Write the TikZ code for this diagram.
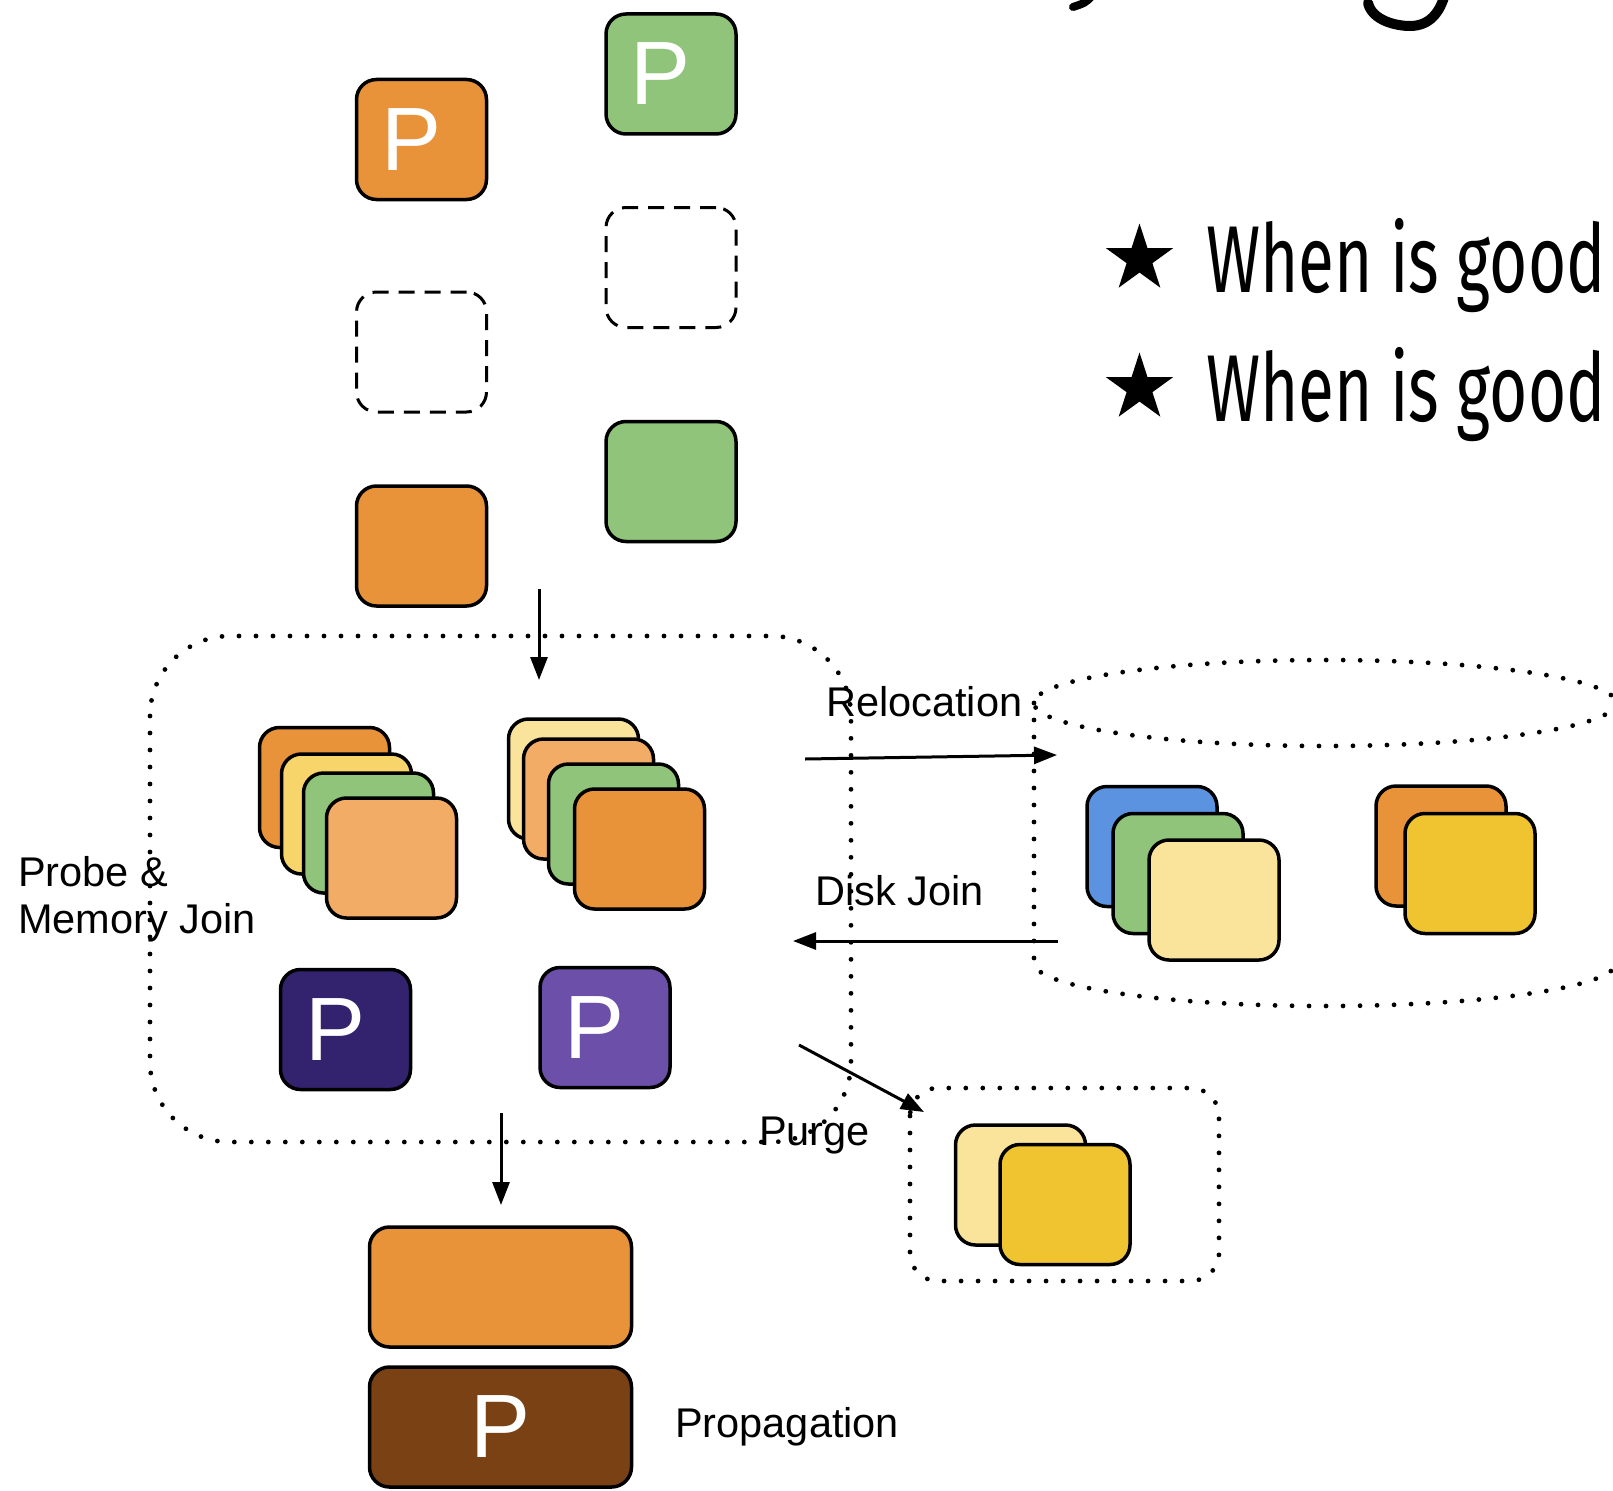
\documentclass[tikz,border=0pt]{standalone}
\usepackage{fontspec}
\usepackage{graphicx}
\setmainfont{Liberation Sans}
\newfontfamily\handfont{Fira Sans}
\usetikzlibrary{arrows.meta,shapes.geometric}

\definecolor{cOrange}{RGB}{232,146,58}
\definecolor{cGreen}{RGB}{143,196,122}
\definecolor{cPeach}{RGB}{242,172,102}
\definecolor{cYellow}{RGB}{247,213,106}
\definecolor{cCream}{RGB}{250,227,154}
\definecolor{cGold}{RGB}{240,195,48}
\definecolor{cBlue}{RGB}{91,147,224}
\definecolor{cIndigo}{RGB}{51,35,111}
\definecolor{cPurple}{RGB}{107,79,168}
\definecolor{cBrown}{RGB}{122,65,20}

\newcommand{\pmark}{\kern-20pt P}

\begin{document}
\begin{tikzpicture}[x=1pt,y=-1pt,
  card/.style={draw=black, line width=3.5pt, rounded corners=20pt,
    minimum width=130pt, minimum height=120pt, inner sep=0pt,
    text=white, font=\fontsize{90}{90}\selectfont},
  ghost/.style={draw=black, line width=3pt, rounded corners=20pt,
    dash pattern=on 16pt off 10pt,
    minimum width=130pt, minimum height=120pt, inner sep=0pt},
  wide/.style={card, minimum width=262pt},
  flow/.style={line width=3pt, -{Triangle[length=23pt,width=17pt]}},
  dots/.style={line width=4.8pt, line cap=round, dash pattern=on 0pt off 17pt},
  lbl/.style={font=\fontsize{41.5}{47}\selectfont, inner sep=0pt, anchor=base west},
  bullet/.style={font=\handfont\fontsize{95}{95}\selectfont, inner sep=0pt, anchor=base west},
  starmark/.style={star, star points=5, star point ratio=2.618, fill=black,
    minimum size=71pt, inner sep=0pt}
]
\useasboundingbox (0,0) rectangle (1613,1490);

% strokes of the large heading, cut by the top edge
\draw[line width=8pt, line cap=round] (1092,-4) .. controls (1085,3) .. (1073,7);
\draw[line width=10pt, line cap=round] (1368,3) .. controls (1372,20) and (1395,26) .. (1410,26)
  .. controls (1430,26) and (1440,12) .. (1445,-6);

% bullets
\node[starmark] (star1) at (1139.5,259) {};
\node[starmark] (star2) at (1139.5,388) {};
\node[bullet] (item1) at (1206,292) {\scalebox{0.69}[1]{When is good}};
\node[bullet] (item2) at (1206,421) {\scalebox{0.69}[1]{When is good}};

% incoming tuples
\node[card, fill=cOrange] (inP1) at (421.5,139.5) {\pmark};
\node[card, fill=cGreen] (inP2) at (671,74) {\pmark};
\node[ghost] (gap1) at (421.5,352) {};
\node[ghost] (gap2) at (671,267.5) {};
\node[card, fill=cOrange] (in1) at (421.5,546) {};
\node[card, fill=cGreen] (in2) at (671,481.5) {};

% memory zone
\draw[dots, rounded corners=80pt] (150,636) rectangle (851,1142);
\coordinate (enterS) at (539,589);
\coordinate (enterE) at (539,680);
\draw[flow] (enterS) -- (enterE);

% left stack
\node[card, fill=cOrange] (l1) at (324.5,787.5) {};
\node[card, fill=cYellow] (l2) at (346.5,814) {};
\node[card, fill=cGreen] (l3) at (368.5,833) {};
\node[card, fill=cPeach] (l4) at (391.5,858) {};
% right stack
\node[card, fill=cCream] (r1) at (573.5,779) {};
\node[card, fill=cPeach] (r2) at (588.5,799) {};
\node[card, fill=cGreen] (r3) at (613.5,824) {};
\node[card, fill=cOrange] (r4) at (639.5,849) {};

\node[card, fill=cIndigo] (pm1) at (345.5,1029.5) {\pmark};
\node[card, fill=cPurple] (pm2) at (605,1027.5) {\pmark};

\node[lbl] (probeA) at (18,886) {Probe \&};
\node[lbl] (probeB) at (18,933) {Memory Join};

% disk
\draw[dots] (1325,703) ellipse[x radius=291, y radius=43];
\draw[dots] (1034,703) -- (1034,963) arc[start angle=180, end angle=0, x radius=291, y radius=43];
\node[card, fill=cBlue] (d1) at (1152,846.5) {};
\node[card, fill=cGreen] (d2) at (1178,873.5) {};
\node[card, fill=cCream] (d3) at (1214,900) {};
\node[card, fill=cOrange] (d4) at (1441,846) {};
\node[card, fill=cGold] (d5) at (1470,873.5) {};

\coordinate (relS) at (805,759);
\coordinate (relE) at (1057,755);
\draw[flow] (relS) -- (relE);
\node[lbl] (relLbl) at (826,716) {Relocation};

\coordinate (djS) at (1058,941);
\coordinate (djE) at (793,941);
\draw[flow] (djS) -- (djE);
\node[lbl] (djLbl) at (815,905) {Disk Join};

% purged tuples
\draw[dots, rounded corners=28pt] (910,1088) rectangle (1219,1281);
\node[card, fill=cCream] (pg1) at (1020.5,1185) {};
\node[card, fill=cGold] (pg2) at (1065,1204.5) {};
\coordinate (pgS) at (799,1045);
\coordinate (pgE) at (924,1112);
\draw[flow] (pgS) -- (pgE);
\node[lbl] (pgLbl) at (759,1145) {Purge};

% output
\coordinate (outS) at (501,1113);
\coordinate (outE) at (501,1205);
\draw[flow] (outS) -- (outE);
\node[wide, fill=cOrange] (res) at (500.5,1287) {};
\node[wide, fill=cBrown] (resP) at (500.5,1427) {P};
\node[lbl] (propLbl) at (675,1437) {Propagation};
\end{tikzpicture}
\end{document}
